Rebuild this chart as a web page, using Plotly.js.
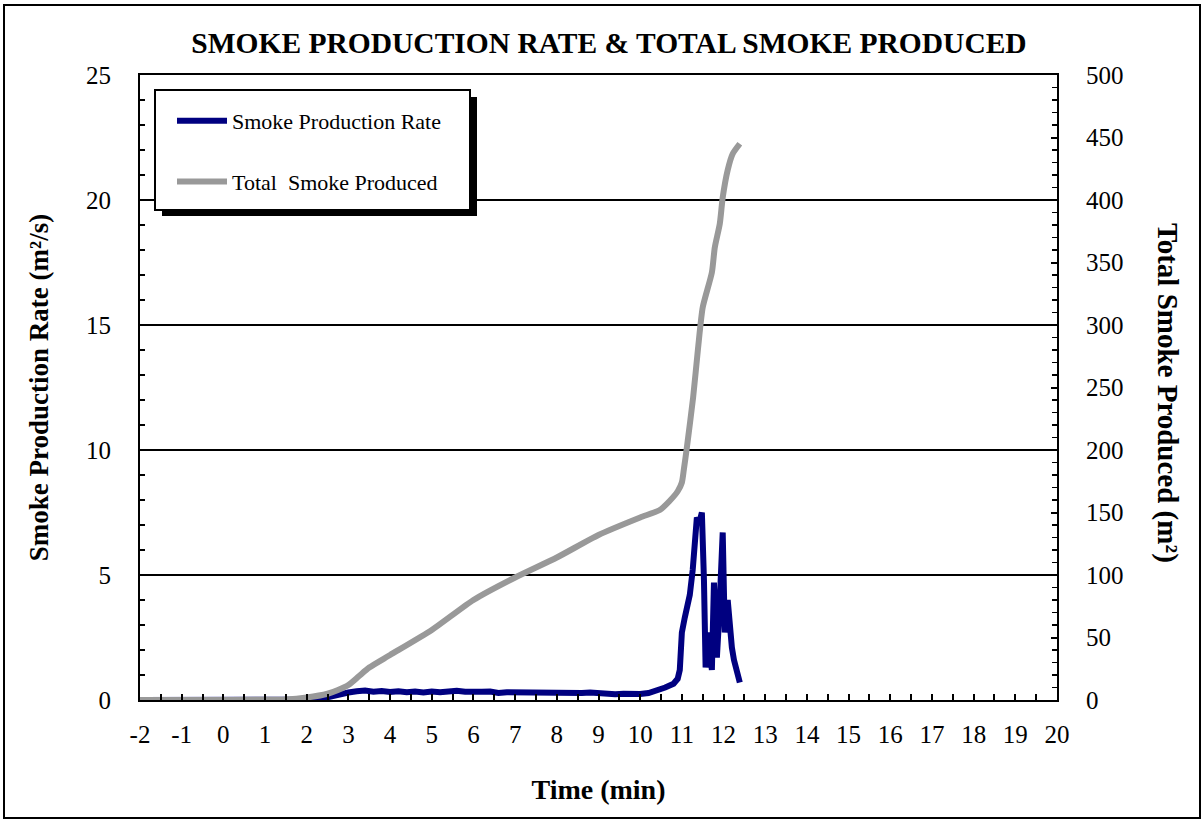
<!DOCTYPE html>
<html>
<head>
<meta charset="utf-8">
<script src="https://cdn.plot.ly/plotly-3.0.1.min.js"></script>
<style>html,body{margin:0;padding:0;background:#fff;}#chart{width:1204px;height:822px;}</style>
</head>
<body>
<div id="chart"></div>
<script>
// Smoke production rate (m²/s) vs time (min)
const rateTime = [-2, 0, 2.0, 2.3, 2.6, 2.8, 3.0, 3.2, 3.4, 3.6, 3.8, 4.0, 4.2, 4.4, 4.6, 4.8, 5.0, 5.2, 5.4, 5.6, 5.8, 6.0, 6.2, 6.4, 6.6, 6.8, 7.0, 7.2, 7.4, 7.6, 7.8, 8.0, 8.2, 8.4, 8.6, 8.8, 9.0, 9.2, 9.4, 9.6, 9.8, 10.0, 10.2, 10.4, 10.6, 10.8, 10.9, 10.95, 11.0, 11.07, 11.19, 11.26, 11.36, 11.42, 11.48, 11.53, 11.57, 11.62, 11.72, 11.77, 11.84, 11.89, 11.98, 12.03, 12.1, 12.2, 12.25, 12.39];
const rateValue = [0, 0, 0, 0.02, 0.15, 0.25, 0.3, 0.35, 0.38, 0.33, 0.36, 0.32, 0.35, 0.31, 0.34, 0.3, 0.34, 0.31, 0.35, 0.37, 0.33, 0.36, 0.33, 0.34, 0.28, 0.31, 0.3, 0.32, 0.29, 0.28, 0.27, 0.3, 0.27, 0.26, 0.28, 0.3, 0.26, 0.24, 0.23, 0.25, 0.23, 0.24, 0.28, 0.38, 0.5, 0.65, 0.85, 1.2, 2.7, 3.3, 4.2, 5.2, 7.3, 7.1, 7.5, 4.8, 1.3, 2.7, 1.2, 4.7, 1.7, 3.2, 6.7, 2.7, 4.0, 2.1, 1.6, 0.7];

// Total smoke produced (m²) vs time (min)
const totalTime = [-2, 0, 1.5, 2.0, 2.5, 2.75, 3.0, 3.25, 3.5, 4.0, 5.0, 6.0, 7.0, 8.0, 9.0, 10.0, 10.47, 10.7, 10.9, 11.0, 11.05, 11.12, 11.27, 11.39, 11.5, 11.72, 11.79, 11.91, 11.98, 12.1, 12.22, 12.39];
const totalValue = [0, 0, 0.5, 2, 5, 8, 12, 19, 26, 36, 56, 80, 98, 114, 132, 146, 152, 159, 167, 174, 185, 202, 242, 282, 314, 342, 362, 381, 402, 424, 437, 445];

const xTicks = [-2, -1, 0, 1, 2, 3, 4, 5, 6, 7, 8, 9, 10, 11, 12, 13, 14, 15, 16, 17, 18, 19, 20];

const serif = 'Liberation Serif, Times New Roman, serif';

const traces = [
  {x: rateTime, y: rateValue, type: 'scatter', mode: 'lines', name: 'Smoke Production Rate',
   line: {color: '#000080', width: 6}, yaxis: 'y', legendgroup: 'a'},
  {x: totalTime, y: totalValue, type: 'scatter', mode: 'lines', name: 'Total  Smoke Produced',
   line: {color: '#999999', width: 6, shape: 'spline', smoothing: 0.6}, yaxis: 'y2', legendgroup: 'b'}
];

const L = 140, R = 1057, T = 75, B = 700;
const px = v => (v - L) / (R - L);
const py = v => (B - v) / (B - T);

const layout = {
  width: 1204, height: 822,
  margin: {l: L, r: 1204 - R, t: T, b: 822 - B},
  paper_bgcolor: '#fff', plot_bgcolor: '#fff',
  font: {family: serif, color: '#000', size: 25},
  title: {text: '<b>SMOKE PRODUCTION RATE & TOTAL SMOKE PRODUCED</b>', font: {family: serif, size: 29.5, color: '#000'},
          x: px(609), xanchor: 'center', y: 1 - 43 / 822, yanchor: 'middle', xref: 'paper'},
  showlegend: true,
  legend: {x: px(172), y: py(100), xanchor: 'left', yanchor: 'top', bgcolor: 'rgba(0,0,0,0)', borderwidth: 0,
           itemwidth: 50,
           font: {family: serif, size: 22, color: '#000'}, traceorder: 'grouped', tracegroupgap: 29},
  xaxis: {range: [-2, 20], tickmode: 'array', tickvals: xTicks, ticktext: xTicks.map(String),
          showline: true, linecolor: '#000', linewidth: 2, mirror: true,
          ticks: 'inside', ticklen: 6, tickwidth: 2, tickcolor: '#000',
          minor: {dtick: 0.5, ticks: 'inside', ticklen: 6, tickwidth: 2, tickcolor: '#000', showgrid: false},
          showgrid: false, zeroline: false, ticklabelstandoff: 11,
          tickfont: {family: serif, size: 25, color: '#000'},
          title: {text: '<b>Time (min)</b>', font: {family: serif, size: 28, color: '#000'}, standoff: 32}},
  yaxis: {range: [0, 25], dtick: 5, tick0: 0,
          showline: true, linecolor: '#000', linewidth: 2,
          ticks: 'inside', ticklen: 6, tickwidth: 2, tickcolor: '#000',
          minor: {dtick: 1, ticks: 'inside', ticklen: 5, tickwidth: 1.5, tickcolor: '#000', showgrid: false},
          showgrid: true, gridcolor: '#000', gridwidth: 1.5, zeroline: false, ticklabelstandoff: 22,
          tickfont: {family: serif, size: 25, color: '#000'},
          title: {text: '<b>Smoke Production Rate (m²/s)</b>', font: {family: serif, size: 27, color: '#000'}, standoff: 30}},
  yaxis2: {range: [0, 500], dtick: 50, tick0: 0, overlaying: 'y', side: 'right',
          showline: true, linecolor: '#000', linewidth: 2,
          ticks: 'inside', ticklen: 6, tickwidth: 2, tickcolor: '#000',
          minor: {dtick: 10, ticks: 'inside', ticklen: 5, tickwidth: 1.5, tickcolor: '#000', showgrid: false},
          showgrid: false, zeroline: false, ticklabelstandoff: 22,
          tickfont: {family: serif, size: 25, color: '#000'}},
  annotations: [
    {text: '<b>Total Smoke Produced (m²)</b>', xref: 'paper', yref: 'paper', x: px(1167), y: py(393),
     textangle: 90, showarrow: false, font: {family: serif, size: 29, color: '#000'}, xanchor: 'center', yanchor: 'middle'}
  ],
  shapes: [
    {type: 'rect', xref: 'paper', yref: 'paper', x0: px(4), x1: px(1200), y0: py(818), y1: py(5),
     line: {color: '#000', width: 2}, fillcolor: 'rgba(0,0,0,0)', layer: 'above'},
    {type: 'rect', xref: 'paper', yref: 'paper', x0: px(162), x1: px(477), y0: py(216), y1: py(97),
     line: {width: 0}, fillcolor: '#000', layer: 'above'},
    {type: 'rect', xref: 'paper', yref: 'paper', x0: px(155), x1: px(470), y0: py(210), y1: py(90),
     line: {color: '#000', width: 2}, fillcolor: '#fff', layer: 'above'}
  ]
};

Plotly.newPlot('chart', traces, layout, {displayModeBar: false, staticPlot: true});
</script>
</body>
</html>
